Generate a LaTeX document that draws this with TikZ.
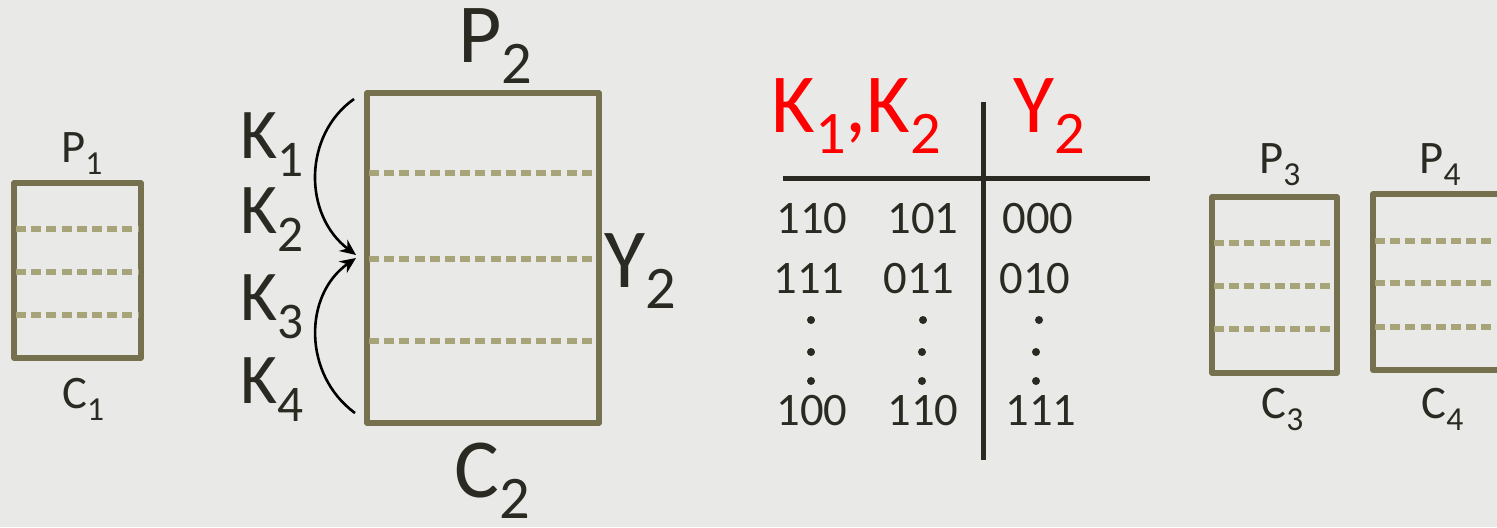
\documentclass[tikz,border=0pt]{standalone}
\usepackage{fontspec}
\setmainfont{Carlito}
\usetikzlibrary{arrows.meta}
\definecolor{bg}{HTML}{E9E9E8}
\definecolor{boxc}{HTML}{75714F}
\definecolor{dashc}{HTML}{A8A47A}
\definecolor{ink}{HTML}{2B2A22}
\newcommand\lbl[2]{#1\raisebox{-0.26em}{\scalebox{0.72}{#2}}}
\tikzset{
  boxline/.style={draw=boxc, line width=2.7pt, line join=round},
  sepline/.style={draw=dashc, line width=2.7pt, dash pattern=on 5pt off 2.6pt},
  small/.style={inner sep=0pt, text=ink, font=\fontsize{23.3}{28}\selectfont},
  kfont/.style={inner sep=0pt, text=ink, font=\fontsize{35.7}{42}\selectfont},
  big/.style={inner sep=0pt, text=ink, font=\fontsize{42}{50}\selectfont},
  redl/.style={inner sep=0pt, text=red, font=\fontsize{42}{50}\selectfont},
  num/.style={inner sep=0pt, text=ink, font=\fontsize{23.3}{28}\selectfont, anchor=base},
  rule/.style={draw=ink, line width=2.5pt},
  arc/.style={draw=black, line width=1.3pt, -{Stealth[length=8pt,width=7pt]}},
  dotc/.style={fill=ink}
}
\begin{document}
\begin{tikzpicture}[x=0.5pt,y=-0.5pt]
\fill[bg] (0,0) rectangle (1497,527);
\useasboundingbox (0,0) rectangle (1497,527);
\clip (0,0) rectangle (1497,527);

% box 1
\draw[boxline] (14,183) rectangle (141,358);
\draw[sepline] (16,229) -- (139,229);
\draw[sepline] (16,272) -- (139,272);
\draw[sepline] (16,315) -- (139,315);
\node[small, anchor=base west] (p1) at (61,162) {\lbl{P}{1}};
\node[small, anchor=base west] (c1) at (62,408) {\lbl{C}{1}};

% box 2
\draw[boxline] (367,93) rectangle (599,423);
\draw[sepline] (369,173) -- (597,173);
\draw[sepline] (369,259) -- (597,259);
\draw[sepline] (369,341) -- (597,341);
\node[big, anchor=base west] (p2) at (458,62) {\lbl{P}{2}};
\node[big, anchor=base west] (c2) at (454,497) {\lbl{C}{2}};
\node[big, anchor=base west] (y2) at (604,287) {\lbl{Y}{2}};
\node[kfont, anchor=base west] (k1) at (240,158) {\lbl{K}{1}};
\node[kfont, anchor=base west] (k2) at (240,233) {\lbl{K}{2}};
\node[kfont, anchor=base west] (k3) at (240,320) {\lbl{K}{3}};
\node[kfont, anchor=base west] (k4) at (240,403) {\lbl{K}{4}};

\coordinate (a1s) at (354,99);
\coordinate (a1e) at (356,255);
\coordinate (a2s) at (355,413);
\coordinate (a2e) at (356,258);
\draw[arc] (a1s) .. controls (303,135) and (303,215) .. (a1e);
\draw[arc] (a2s) .. controls (303,375) and (303,295) .. (a2e);

% table
\node[redl, anchor=base west] (hk) at (771,132) {\lbl{K}{1},\lbl{K}{2}};
\node[redl, anchor=base west] (hy) at (1013,132) {\lbl{Y}{2}};
\coordinate (hl) at (783,178);
\coordinate (hr) at (1150,178);
\coordinate (vt) at (983,102);
\coordinate (vb) at (983,460);
\draw[rule] (hl) -- (hr);
\draw[rule] (vt) -- (vb);

\node[num] (r11) at (812,233) {110};
\node[num] (r12) at (923,233) {101};
\node[num] (r13) at (1038,233) {000};
\node[num] (r21) at (809,293) {111};
\node[num] (r22) at (919,293) {011};
\node[num] (r23) at (1035,293) {010};
\node[num] (r41) at (812,425) {100};
\node[num] (r42) at (923,425) {110};
\node[num] (r43) at (1041,425) {111};
\foreach \x/\y in {811/320,811/352,811/381,923/320,922/352,922/381,1039/320,1036/352,1036/381}
  \fill[dotc] (\x,\y) circle (2pt);

% box 3
\draw[boxline] (1212,197) rectangle (1337,373);
\draw[sepline] (1214,243) -- (1335,243);
\draw[sepline] (1214,286) -- (1335,286);
\draw[sepline] (1214,329) -- (1335,329);
\node[small, anchor=base west] (p3) at (1259,173) {\lbl{P}{3}};
\node[small, anchor=base west] (c3) at (1261,418) {\lbl{C}{3}};

% box 4
\draw[boxline] (1373,194) rectangle (1530,370);
\draw[sepline] (1375,241) -- (1497,241);
\draw[sepline] (1375,283) -- (1497,283);
\draw[sepline] (1375,327) -- (1497,327);
\node[small, anchor=base west] (p4) at (1419,173) {\lbl{P}{4}};
\node[small, anchor=base west] (c4) at (1421,418) {\lbl{C}{4}};
\end{tikzpicture}
\end{document}
